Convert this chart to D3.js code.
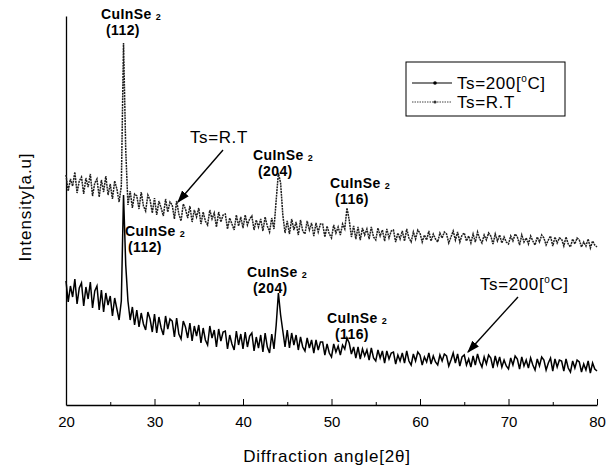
<!DOCTYPE html>
<html>
<head>
<meta charset="utf-8">
<script src="https://cdn.jsdelivr.net/npm/d3@7"></script>
<style>
  body { margin: 0; background: #fff; }
  svg { display: block; }
  text { font-family: Arial, "Liberation Sans", sans-serif; fill: #000; }
</style>
</head>
<body>
<div id="chart"></div>
<script>
// diffraction angle sampled every 0.25 deg from 20 to 80
var angles = d3.range(0, 241).map(function(i) { return 20 + i * 0.25; });

// Ts = R.T  (arbitrary intensity, 4 values per degree)
var intensityRT = [
  230,214,226,219, 233,212,224,228, 211,227,218,231, 209,222,226,208,
  225,213,229,210, 221,206,224,216, 203,219,362,255, 200,214,197,211,
  209,196,213,199, 194,210,205,192, 207,190,204,197, 189,206,193,203,
  200,186,204,191, 184,201,196,187, 199,183,195,188, 197,181,193,184,
  180,195,186,192, 178,193,183,190, 191,176,187,181, 175,190,179,188,
  177,190,180,186, 189,175,185,178, 186,174,188,179, 173,187,176,205,
  232,222,190,172, 184,171,186,175, 183,170,185,174, 171,184,175,182,
  169,182,173,181, 181,168,179,171, 167,180,172,178, 170,181,176,197,
  185,168,179,166, 178,165,177,170, 176,166,178,168, 165,177,169,175,
  164,176,167,174, 175,163,172,166, 174,164,176,167, 163,173,166,175,
  172,163,170,165, 174,164,171,166, 163,172,167,173, 171,162,168,174,
  165,173,163,170, 172,164,169,162, 171,163,173,166, 162,170,165,172,
  169,161,171,164, 170,162,168,163, 161,169,164,171, 168,160,170,163,
  167,161,169,164, 160,168,163,170, 167,160,165,169, 159,168,162,167,
  166,159,168,161, 158,166,161,167, 165,158,163,159, 166,157,164,160,
  158
];

// Ts = 200 C
var intensity200 = [
  124,103,119,108, 126,101,117,122, 99,118,106,123, 97,114,119,95,
  115,93,112,100, 109,89,107,96, 85,104,210,140, 104,85,98,80,
  95,78,92,81, 75,93,86,73, 91,72,88,77, 70,89,76,86,
  84,68,87,71, 66,84,78,67, 82,64,79,69, 80,62,77,65,
  60,79,67,75, 58,76,64,73, 74,56,70,61, 55,74,60,71,
  56,73,58,69, 72,54,68,57, 70,53,72,58, 52,71,56,80,
  112,90,74,58, 75,57,72,60, 70,55,68,58, 54,67,57,65,
  52,65,55,63, 63,50,61,52, 48,61,53,59, 50,60,56,67,
  62,51,58,47, 58,46,56,49, 55,45,57,47, 44,55,47,54,
  42,54,46,52, 53,41,50,44, 52,42,54,44, 40,51,44,53,
  50,40,48,43, 52,41,49,43, 40,50,44,51, 49,39,45,52,
  42,51,39,48, 50,40,46,38, 49,40,51,43, 38,48,41,50,
  47,37,49,40, 48,38,45,39, 36,47,40,49, 46,36,48,39,
  45,37,47,40, 35,46,39,48, 45,35,42,47, 34,46,38,45,
  44,34,46,37, 33,44,37,45, 43,33,41,35, 44,32,42,36,
  34
];

var majorTicks = [20, 30, 40, 50, 60, 70, 80];
var minorTicks = [25, 35, 45, 55, 65, 75];
var seriesNames = ["Ts=200[", "Ts=R.T"];

var width = 611, height = 470;

var svg = d3.select("#chart").append("svg")
    .attr("width", width)
    .attr("height", height);

var x = d3.scaleLinear().domain([20, 80]).range([66, 597]);
var y = d3.scaleLinear().domain([0, 389]).range([405, 16]);

// axes
var xAxis = d3.axisBottom(x).tickValues(majorTicks).tickSizeInner(-6).tickSizeOuter(0).tickPadding(11)
    .tickFormat(d3.format("d"));
var gx = svg.append("g").attr("transform", "translate(0,405)").call(xAxis);
gx.selectAll("text").style("font-size", "15px").attr("fill", "#000");
gx.select(".domain").attr("stroke-width", 1.3);

svg.append("g").attr("transform", "translate(0,405)")
    .call(d3.axisBottom(x).tickValues(minorTicks).tickSizeInner(-3).tickSizeOuter(0).tickFormat(""))
    .select(".domain").remove();

var gy = svg.append("g").attr("transform", "translate(66,0)")
    .call(d3.axisLeft(y).tickValues([]).tickSizeOuter(0));
gy.select(".domain").attr("stroke-width", 1.3);

// curves
var line = d3.line()
    .x(function(d, i) { return x(angles[i]); })
    .y(function(d) { return y(d); });

svg.append("path")
    .datum(intensityRT)
    .attr("d", line)
    .attr("fill", "none")
    .attr("stroke", "#1e1e1e")
    .attr("stroke-width", 1.5)
    .attr("stroke-dasharray", "2,0.8");

svg.append("path")
    .datum(intensity200)
    .attr("d", line)
    .attr("fill", "none")
    .attr("stroke", "#000")
    .attr("stroke-width", 1.5);

// axis titles
svg.append("text")
    .attr("x", 327).attr("y", 462)
    .attr("text-anchor", "middle")
    .style("font-size", "17px")
    .style("letter-spacing", "0.8px")
    .text("Diffraction angle[2\u03B8]");

svg.append("text")
    .attr("transform", "translate(31,207) rotate(-90)")
    .attr("text-anchor", "middle")
    .style("font-size", "17px")
    .style("letter-spacing", "0.9px")
    .text("Intensity[a.u]");

// peak labels (two lines in one text element)
var peakLabels = [
  { x: 101, y: 19, hkl: "(112)", dx: 5 },
  { x: 253, y: 160, hkl: "(204)", dx: 5 },
  { x: 330, y: 188, hkl: "(116)", dx: 5 },
  { x: 125, y: 236, hkl: "(112)", dx: 3 },
  { x: 247, y: 277, hkl: "(204)", dx: 6 },
  { x: 327, y: 323, hkl: "(116)", dx: 8 }
];

peakLabels.forEach(function(p) {
  var t = svg.append("text")
      .attr("x", p.x).attr("y", p.y)
      .style("font-size", "14px")
      .style("font-weight", "bold")
      .style("letter-spacing", "0.4px");
  t.append("tspan").text("CuInSe");
  t.append("tspan").attr("dx", 4).attr("dy", 1).style("font-size", "9px").text("2");
  t.append("tspan").attr("x", p.x + p.dx).attr("dy", 15).text(p.hkl);
});

// curve annotations with arrows
svg.append("defs").append("marker")
    .attr("id", "arrow")
    .attr("viewBox", "0 0 10 10")
    .attr("refX", 9).attr("refY", 5)
    .attr("markerWidth", 9).attr("markerHeight", 9)
    .attr("orient", "auto")
    .append("path").attr("d", "M0,1.5 L10,5 L0,8.5 Z").attr("fill", "#000");

function degLabel(sel, base) {
  sel.append("tspan").text(base);
  sel.append("tspan").attr("dy", -7).style("font-size", "10px").text("o");
  sel.append("tspan").attr("dy", 7).text("C]");
}

svg.append("text")
    .attr("x", 190).attr("y", 143)
    .style("font-size", "17px")
    .style("letter-spacing", "0.6px")
    .text("Ts=R.T");
svg.append("line")
    .attr("x1", 223).attr("y1", 150).attr("x2", 178).attr("y2", 202)
    .attr("stroke", "#000").attr("stroke-width", 1.4)
    .attr("marker-end", "url(#arrow)");

var t200 = svg.append("text")
    .attr("x", 480).attr("y", 290)
    .style("font-size", "17px")
    .style("letter-spacing", "0.6px");
degLabel(t200, "Ts=200[");
svg.append("line")
    .attr("x1", 518).attr("y1", 297).attr("x2", 468).attr("y2", 352)
    .attr("stroke", "#000").attr("stroke-width", 1.4)
    .attr("marker-end", "url(#arrow)");

// legend
var lg = svg.append("g");
lg.append("rect")
    .attr("x", 406).attr("y", 62).attr("width", 159).attr("height", 54)
    .attr("fill", "#fff").attr("stroke", "#000").attr("stroke-width", 1);

lg.append("line").attr("x1", 412).attr("x2", 452).attr("y1", 83).attr("y2", 83)
    .attr("stroke", "#000").attr("stroke-width", 1.1);
lg.append("circle").attr("cx", 435).attr("cy", 83).attr("r", 1.8).attr("fill", "#000");
var l1 = lg.append("text").attr("x", 457).attr("y", 89)
    .style("font-size", "17px").style("letter-spacing", "0.6px");
degLabel(l1, seriesNames[0]);

lg.append("line").attr("x1", 412).attr("x2", 452).attr("y1", 102).attr("y2", 102)
    .attr("stroke", "#444").attr("stroke-width", 1).attr("stroke-dasharray", "1.5,1");
lg.append("circle").attr("cx", 435).attr("cy", 102).attr("r", 1.6).attr("fill", "#333");
lg.append("text").attr("x", 457).attr("y", 108)
    .style("font-size", "17px").style("letter-spacing", "0.6px")
    .text(seriesNames[1]);
</script>
</body>
</html>
